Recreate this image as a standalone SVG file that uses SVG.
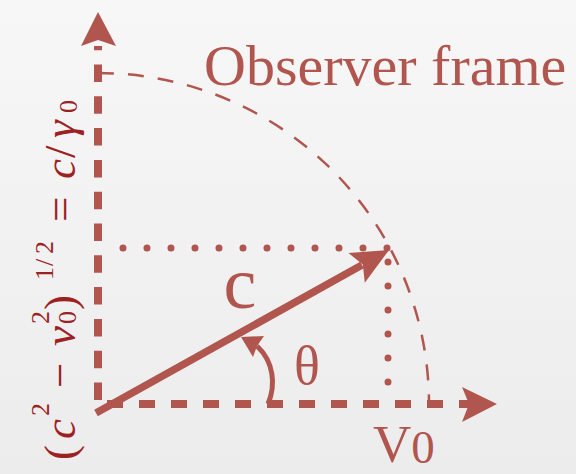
<svg xmlns="http://www.w3.org/2000/svg" width="576" height="474" viewBox="0 0 576 474">
<defs>
<linearGradient id="bg" x1="0" y1="0" x2="0" y2="1">
<stop offset="0" stop-color="#f7f7f7"/>
<stop offset="1" stop-color="#ececed"/>
</linearGradient>
</defs>
<style>
.ink{stroke:#b1564f;fill:none}
.head{fill:#b1564f;stroke:none}
.axis{stroke-width:8;stroke-linecap:butt}
.dots{stroke-width:7;stroke-linecap:round;stroke-dasharray:0 24}
.lbl{fill:#b1564f;font-family:"Liberation Serif","Times New Roman",serif}
.math{fill:#9c2222;font-family:"Liberation Serif","Times New Roman",serif;font-size:45px}
.it{font-style:italic}
.sc{font-size:26px}
</style>
<rect width="576" height="474" fill="url(#bg)"/>

<g id="observer-arc">
<path class="ink" d="M98 73 A331 331 0 0 1 429 404" stroke-width="2.5" stroke-dasharray="16 14"/>
</g>

<g id="connectors">
<g id="axis-y">
<path class="ink axis" d="M98 400 V46" stroke-dasharray="17.5 14.3"/>
<polygon class="head" points="98,12 116,46 98,40 81,46"/>
</g>
<g id="axis-x">
<path class="ink axis" d="M98 404 H470" stroke-dasharray="16 16" stroke-dashoffset="23"/>
<polygon class="head" points="497,404 462,422 469,404 462,387"/>
</g>
<g id="projections">
<path class="ink dots" d="M123 248 H388"/>
<path class="ink dots" d="M388 262 V383"/>
</g>
<g id="vector-c">
<path class="ink" d="M96 413 L362 265" stroke-width="7.5"/>
<polygon class="head" points="389,250 364.8,282.8 362.8,264.5 348.4,253"/>
</g>
<g id="angle-theta">
<path class="ink" d="M268 404 C276 385 274 362 257 346" stroke-width="5"/>
<polygon class="head" points="241,337 264,336 257,346 253,357"/>
</g>
</g>

<g id="label-observer">
<text class="lbl" x="204" y="85" font-size="58">Observer frame</text>
</g>
<g id="label-c">
<text class="lbl" x="240" y="308" font-size="74" text-anchor="middle">c</text>
</g>
<g id="label-theta">
<text class="lbl" x="307" y="384" font-size="54" text-anchor="middle">θ</text>
</g>
<g id="label-v0">
<text class="lbl" x="373" y="462" font-size="53">V<tspan font-size="47" dy="1">0</tspan></text>
</g>
<g id="label-height" transform="translate(75,460) rotate(-90)">
<text class="math" y="0"><tspan x="0">(</tspan><tspan x="21" class="it">c</tspan><tspan x="44" y="-26" class="sc">2</tspan><tspan x="72" y="0">−</tspan><tspan x="114" class="it">v</tspan><tspan x="136" y="-26" class="sc">2</tspan><tspan x="136" y="1" class="sc">0</tspan><tspan x="150" y="0">)</tspan><tspan x="180" y="-22" class="sc">1</tspan><tspan x="194" y="-22" class="sc">/</tspan><tspan x="206" y="-22" class="sc">2</tspan><tspan x="238" y="0">=</tspan><tspan x="281" class="it">c</tspan><tspan x="302">/</tspan><tspan x="322" class="it">γ</tspan><tspan x="347" y="2" class="sc">0</tspan></text>
</g>
</svg>
